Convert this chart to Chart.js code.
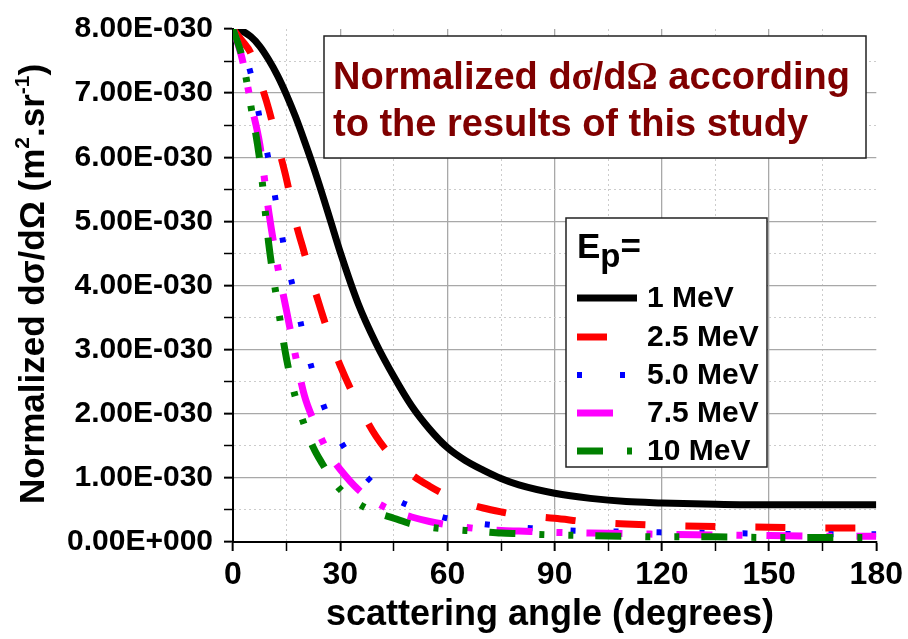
<!DOCTYPE html>
<html>
<head>
<meta charset="utf-8">
<script src="https://cdn.jsdelivr.net/npm/chart.js@4.4.1/dist/chart.umd.min.js"></script>
<style>
  html, body { margin: 0; padding: 0; background: #fff; }
</style>
</head>
<body>
<canvas id="chart" width="908" height="639"></canvas>
<script>
// scattering angle (degrees), shared by all curves
const angles = [0, 2.5, 5, 7.5, 10, 12.5, 15, 17.5, 20, 22.5, 25, 27.5, 30, 35, 40, 45, 50, 55, 60,
                65, 70, 75, 80, 90, 100, 110, 120, 135, 150, 165, 180];

// normalized dsigma/dOmega, in units of 1E-030 m^2.sr^-1
const e1MeV   = [8.00, 7.97, 7.88, 7.73, 7.52, 7.27, 6.97, 6.63, 6.25, 5.85, 5.42, 4.97, 4.52, 3.72, 3.10, 2.58, 2.12, 1.76, 1.47,
                 1.27, 1.12, 0.99, 0.89, 0.76, 0.68, 0.63, 0.61, 0.59, 0.58, 0.58, 0.58];
const e25MeV  = [8.00, 7.82, 7.62, 7.20, 6.75, 6.20, 5.65, 5.00, 4.50, 4.00, 3.55, 3.12, 2.75, 2.15, 1.65, 1.30, 1.05, 0.87, 0.72,
                 0.61, 0.53, 0.47, 0.42, 0.37, 0.31, 0.28, 0.26, 0.24, 0.23, 0.22, 0.22];
const e50MeV  = [8.00, 7.70, 7.30, 6.60, 5.95, 5.15, 4.40, 3.80, 3.15, 2.62, 2.18, 1.85, 1.58, 1.16, 0.88, 0.68, 0.55, 0.45, 0.37,
                 0.32, 0.28, 0.25, 0.23, 0.19, 0.17, 0.16, 0.15, 0.14, 0.13, 0.12, 0.12];
const e75MeV  = [8.00, 7.55, 6.85, 6.20, 5.15, 4.30, 3.60, 2.90, 2.28, 1.90, 1.58, 1.32, 1.13, 0.82, 0.62, 0.48, 0.39, 0.32, 0.27,
                 0.23, 0.20, 0.18, 0.17, 0.15, 0.14, 0.13, 0.12, 0.11, 0.10, 0.09, 0.09];
const e10MeV  = [8.00, 7.57, 6.80, 5.95, 4.65, 3.70, 2.85, 2.25, 1.82, 1.47, 1.22, 1.00, 0.82, 0.60, 0.46, 0.37, 0.28, 0.23, 0.20,
                 0.18, 0.16, 0.14, 0.13, 0.11, 0.10, 0.09, 0.08, 0.08, 0.07, 0.07, 0.07];

const seriesLabels = ['1 MeV', '2.5 MeV', '5.0 MeV', '7.5 MeV', '10 MeV'];
const allValues = [e1MeV, e25MeV, e50MeV, e75MeV, e10MeV];

const FONT = "'Liberation Sans', Arial, Helvetica, sans-serif";
const SERIF = "'Liberation Serif', 'Times New Roman', serif";

const styles = [
  {color: '#000000', width: 7, dash: []},
  {color: '#ff0000', width: 7, dash: [30, 40]},
  {color: '#0000ff', width: 6, dash: [5, 38]},
  {color: '#ff00ff', width: 7, dash: [36, 24, 6, 24]},
  {color: '#008000', width: 7, dash: [26, 24, 5, 24, 5, 22]}
];

function toPoints(vals) {
  return angles.map((a, i) => ({x: a, y: vals[i]}));
}

// draw a list of text runs (different fonts / offsets) from x,y
function drawRuns(ctx, runs, x, y, align) {
  let total = 0;
  runs.forEach(r => { ctx.font = r.font; r.w = ctx.measureText(r.text).width; total += r.w; });
  let cx = align === 'center' ? x - total / 2 : x;
  runs.forEach(r => {
    ctx.font = r.font;
    ctx.fillText(r.text, cx, y + (r.dy || 0));
    cx += r.w;
  });
}

const decorations = {
  id: 'decorations',
  afterDraw(chart) {
    const ctx = chart.ctx;
    ctx.save();
    ctx.fillStyle = '#000';
    ctx.textAlign = 'left';
    ctx.textBaseline = 'alphabetic';

    // y axis title
    ctx.save();
    ctx.translate(44, 284);
    ctx.rotate(-Math.PI / 2);
    const big = 'bold 35px ' + FONT, sup = 'bold 21px ' + FONT;
    drawRuns(ctx, [
      {text: 'Normalized d\u03c3/d\u03a9 (m', font: big},
      {text: '2', font: sup, dy: -15},
      {text: '.sr', font: big},
      {text: '-1', font: sup, dy: -15},
      {text: ')', font: big}
    ], 0, 0, 'center');
    ctx.restore();

    // x axis title
    ctx.font = 'bold 36px ' + FONT;
    ctx.textAlign = 'center';
    ctx.fillText('scattering angle (degrees)', 550, 625);
    ctx.textAlign = 'left';

    // annotation box
    ctx.fillStyle = '#fff';
    ctx.fillRect(324, 36, 542, 122);
    ctx.strokeStyle = '#222';
    ctx.lineWidth = 1.5;
    ctx.strokeRect(324, 36, 542, 122);
    ctx.fillStyle = '#800000';
    const tf = 'bold 38px ' + FONT, tg = 'bold 39px ' + SERIF;
    drawRuns(ctx, [
      {text: 'Normalized d', font: tf},
      {text: '\u03c3', font: tg},
      {text: '/d', font: tf},
      {text: '\u03a9', font: tg},
      {text: ' according', font: tf}
    ], 333, 89);
    ctx.font = tf;
    ctx.fillText('to the results of this study', 333, 136);

    // legend box
    ctx.fillStyle = '#fff';
    ctx.fillRect(566, 218, 201, 249);
    ctx.strokeStyle = '#222';
    ctx.lineWidth = 1.5;
    ctx.strokeRect(566, 218, 201, 249);
    ctx.fillStyle = '#000';
    drawRuns(ctx, [
      {text: 'E', font: 'bold 35px ' + FONT},
      {text: 'p', font: 'bold 33px ' + FONT, dy: 9},
      {text: '=', font: 'bold 35px ' + FONT}
    ], 577, 258);

    const rowY = [298, 337, 375, 413, 451];
    chart.data.datasets.forEach((ds, i) => {
      const y = rowY[i];
      ctx.save();
      ctx.strokeStyle = ds.borderColor;
      ctx.lineWidth = ds.borderWidth;
      ctx.setLineDash(ds.borderDash);
      ctx.lineCap = 'butt';
      ctx.beginPath();
      ctx.moveTo(577, y);
      ctx.lineTo(637, y);
      ctx.stroke();
      ctx.restore();
      ctx.font = 'bold 30px ' + FONT;
      ctx.textBaseline = 'middle';
      ctx.fillText(ds.label, 647, y + 1);
      ctx.textBaseline = 'alphabetic';
    });
    ctx.restore();
  }
};

function tickVal(c) { return c.tick ? c.tick.value : null; }

const chart = new Chart(document.getElementById('chart'), {
  type: 'line',
  data: {
    datasets: allValues.map((vals, i) => ({
      label: seriesLabels[i],
      data: toPoints(vals),
      borderColor: styles[i].color,
      borderWidth: styles[i].width,
      borderDash: styles[i].dash,
      borderCapStyle: 'butt',
      pointRadius: 0,
      fill: false,
      cubicInterpolationMode: 'monotone',
      order: allValues.length - i
    }))
  },
  options: {
    responsive: false,
    devicePixelRatio: 1,
    animation: false,
    events: [],
    layout: {padding: {top: 19, right: 28, left: 0, bottom: 0}},
    plugins: {legend: {display: false}, tooltip: {enabled: false}},
    scales: {
      x: {
        type: 'linear',
        min: 0,
        max: 180,
        afterFit: function(scale) { scale.height = 97; },
        ticks: {
          stepSize: 15,
          autoSkip: false,
          maxRotation: 0,
          padding: 5,
          color: '#000',
          font: {family: FONT, size: 32, weight: 'bold'},
          callback: function(value) { return value % 30 === 0 ? String(value) : ''; }
        },
        grid: {
          color: function(c) {
            const v = tickVal(c);
            if (v === 180) return 'rgba(0,0,0,0)';
            return v % 30 === 0 ? '#a8a8a8' : '#cccccc';
          },
          lineWidth: function(c) { return tickVal(c) % 30 === 0 ? 1.3 : 1; },
          tickColor: '#000',
          tickWidth: function(c) { return tickVal(c) % 30 === 0 ? 2 : 1.5; },
          tickLength: 9
        },
        border: {
          display: true,
          color: '#000',
          width: 2,
          dash: function(c) { return tickVal(c) % 30 === 0 ? [] : [2, 3]; }
        }
      },
      y: {
        type: 'linear',
        min: 0,
        max: 8,
        afterFit: function(scale) { scale.width = 233; },
        ticks: {
          stepSize: 0.5,
          autoSkip: false,
          padding: 11,
          color: '#000',
          font: {family: FONT, size: 30, weight: 'bold'},
          callback: function(value) {
            if (value % 1 !== 0) return '';
            return value === 0 ? '0.00E+000' : value.toFixed(2) + 'E-030';
          }
        },
        grid: {
          color: function(c) {
            const v = tickVal(c);
            if (v === 8) return 'rgba(0,0,0,0)';
            return v % 1 === 0 ? '#a8a8a8' : '#cccccc';
          },
          lineWidth: function(c) { return tickVal(c) % 1 === 0 ? 1.3 : 1; },
          tickColor: '#000',
          tickWidth: function(c) { return tickVal(c) % 1 === 0 ? 2 : 1.5; },
          tickLength: 9
        },
        border: {
          display: true,
          color: '#000',
          width: 2,
          dash: function(c) { return tickVal(c) % 1 === 0 ? [] : [2, 3]; }
        }
      }
    }
  },
  plugins: [decorations]
});
</script>
</body>
</html>
